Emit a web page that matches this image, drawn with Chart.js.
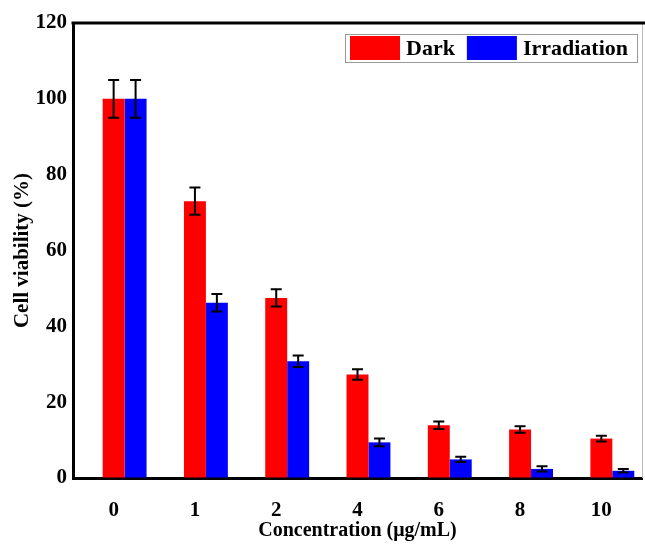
<!DOCTYPE html>
<html lang="en">
<head>
  <meta charset="UTF-8" />
  <title>Cell viability</title>
  <script src="https://cdn.jsdelivr.net/npm/chart.js"></script>
  <style>
    html, body { margin: 0; padding: 0; background: #fff; }
    .chart-box { width: 645px; height: 548px; }
  </style>
</head>
<body>
  <div class="chart-box">
    <canvas id="viabilityChart"></canvas>
  </div>

  <script>
    const concLabels = ["0", "1", "2", "4", "6", "8", "10"];
    const darkMeans = [100, 73, 47.5, 27.3, 13.9, 12.8, 10.4];
    const darkErr = [5, 3.6, 2.3, 1.4, 1.0, 0.85, 0.75];
    const irrMeans = [100, 46.2, 30.8, 9.4, 4.9, 2.4, 1.9];
    const irrErr = [5, 2.3, 1.5, 1.05, 0.7, 0.7, 0.45];

    const FONT = "'Liberation Serif', 'Times New Roman', serif";

    // error bars drawn on top of each bar
    const errorBars = {
      id: "errorBars",
      afterDatasetsDraw(chart) {
        const ctx = chart.ctx;
        const y = chart.scales.y;
        ctx.save();
        ctx.strokeStyle = "#000";
        ctx.lineWidth = 2;
        chart.data.datasets.forEach((ds, di) => {
          if (!ds.errors) return;
          const meta = chart.getDatasetMeta(di);
          meta.data.forEach((bar, i) => {
            const v = ds.data[i], e = ds.errors[i];
            const top = y.getPixelForValue(v + e);
            const bot = y.getPixelForValue(v - e);
            const cap = 5.5;
            ctx.beginPath();
            ctx.moveTo(bar.x, top);
            ctx.lineTo(bar.x, bot);
            ctx.moveTo(bar.x - cap, top);
            ctx.lineTo(bar.x + cap, top);
            ctx.moveTo(bar.x - cap, bot);
            ctx.lineTo(bar.x + cap, bot);
            ctx.stroke();
          });
        });
        ctx.restore();
      }
    };

    // top and right frame lines
    const frame = {
      id: "frame",
      beforeDatasetsDraw(chart) {
        const { ctx, chartArea: a } = chart;
        ctx.save();
        ctx.strokeStyle = "#bbb";
        ctx.lineWidth = 1;
        ctx.beginPath();
        ctx.moveTo(a.right + 0.5, a.top);
        ctx.lineTo(a.right + 0.5, a.bottom);
        ctx.stroke();
        ctx.strokeStyle = "#000";
        ctx.lineWidth = 3;
        ctx.beginPath();
        ctx.moveTo(a.left - 1.5, a.top);
        ctx.lineTo(chart.width, a.top);
        ctx.stroke();
        ctx.restore();
      }
    };

    // boxed legend inside the plot, top right
    const boxLegend = {
      id: "boxLegend",
      afterDraw(chart) {
        const { ctx, chartArea: a } = chart;
        const items = chart.data.datasets.filter(d => d.label);
        ctx.save();
        ctx.font = "bold 22px " + FONT;
        const sw = 50, sh = 24, gapText = 6, gapItem = 12, pad = 5, padR = 9;
        let w = pad + padR;
        items.forEach((d, i) => {
          w += sw + gapText + ctx.measureText(d.label).width;
          if (i < items.length - 1) w += gapItem;
        });
        const h = 28;
        const right = a.right - 5;
        const left = right - w;
        const top = a.top + 11;
        ctx.fillStyle = "#fff";
        ctx.fillRect(left, top, w, h);
        ctx.strokeStyle = "#999";
        ctx.lineWidth = 1;
        ctx.strokeRect(left + 0.5, top + 0.5, w, h);
        let x = left + pad;
        ctx.textBaseline = "middle";
        items.forEach(d => {
          ctx.fillStyle = d.backgroundColor;
          ctx.fillRect(x, top + 2, sw, sh);
          x += sw + gapText;
          ctx.fillStyle = "#000";
          ctx.fillText(d.label, x, top + h / 2 + 1);
          x += ctx.measureText(d.label).width + gapItem;
        });
        ctx.restore();
      }
    };

    new Chart(document.getElementById("viabilityChart"), {
      type: "bar",
      data: {
        labels: concLabels,
        datasets: [
          // empty slot so the red bar sits on the tick
          { label: "", data: [], backgroundColor: "transparent" },
          { label: "Dark", data: darkMeans, errors: darkErr, backgroundColor: "#ff0000" },
          { label: "Irradiation", data: irrMeans, errors: irrErr, backgroundColor: "#0000ff" }
        ]
      },
      options: {
        responsive: true,
        maintainAspectRatio: false,
        animation: false,
        categoryPercentage: 0.81,
        barPercentage: 1.0,
        layout: { padding: { top: 23, right: 3, left: 0, bottom: 0 } },
        plugins: {
          legend: { display: false },
          tooltip: { enabled: false }
        },
        scales: {
          x: {
            grid: { drawOnChartArea: false, drawTicks: false },
            border: { color: "#000", width: 3 },
            ticks: { color: "#000", padding: 20, font: { family: FONT, size: 21, weight: "bold" } },
            title: {
              display: true,
              text: "Concentration (μg/mL)",
              color: "#000",
              padding: { top: 0, bottom: 5 },
              font: { family: FONT, size: 20, weight: "bold" }
            },
            afterFit(scale) { scale.height = 70; }
          },
          y: {
            min: 0,
            max: 120,
            grid: { drawOnChartArea: false, drawTicks: false },
            border: { color: "#000", width: 3 },
            ticks: { stepSize: 20, color: "#000", padding: 6, font: { family: FONT, size: 21, weight: "bold" } },
            title: {
              display: true,
              text: "Cell viability (%)",
              color: "#000",
              padding: { top: 10, bottom: 0 },
              font: { family: FONT, size: 21, weight: "bold" }
            },
            afterFit(scale) { scale.width = 73; }
          }
        }
      },
      plugins: [frame, errorBars, boxLegend]
    });
  </script>
</body>
</html>
